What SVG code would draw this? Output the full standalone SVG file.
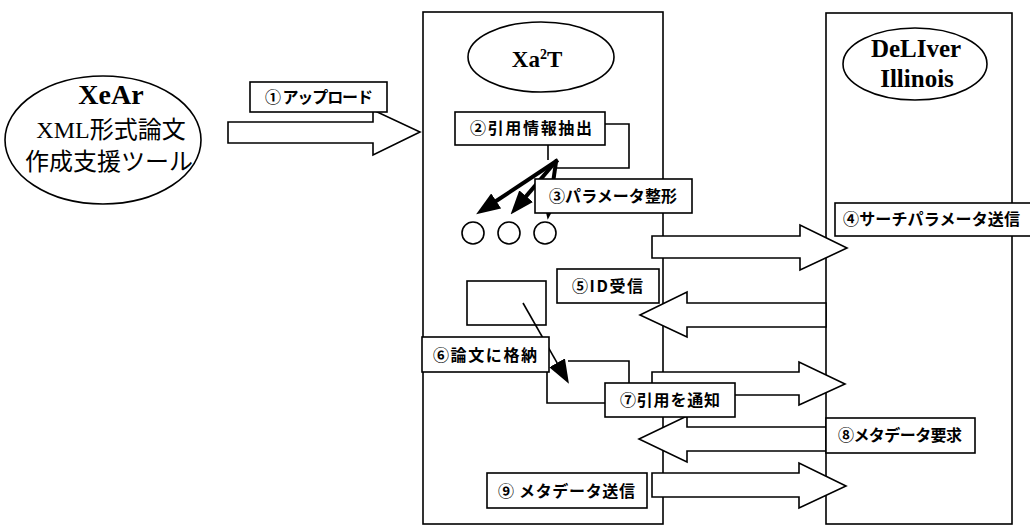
<svg xmlns="http://www.w3.org/2000/svg" width="1030" height="529" viewBox="0 0 1030 529">
<style>
.ln{fill:none;stroke:#000;stroke-width:1.6}
.box{fill:#fff;stroke:#000;stroke-width:1.6}
.arr{fill:#fff;stroke:#000;stroke-width:1.6;stroke-linejoin:miter}
.lbl{font-family:"Noto Sans CJK JP","Noto Sans",sans-serif;font-weight:bold;font-size:16px;fill:#000}
.ser{font-family:"Liberation Serif","Noto Sans CJK JP",serif;font-weight:bold;fill:#000}
.jp{font-family:"Liberation Serif","Noto Sans CJK JP",serif;fill:#000;font-size:24px}
.thick{fill:none;stroke:#000;stroke-width:4}
</style>
<defs>
<marker id="head" viewBox="0 0 24 18" refX="11" refY="9" markerWidth="24" markerHeight="18" orient="auto" markerUnits="userSpaceOnUse">
<path d="M0,0 L24,9 L0,18 z" fill="#000"/>
</marker>
</defs>

<g id="xear">
<ellipse class="box" cx="103" cy="140" rx="98" ry="64"/>
<text class="ser" x="111" y="104" font-size="28" text-anchor="middle">XeAr</text>
<text class="jp" x="111" y="138" text-anchor="middle">XML形式論文</text>
<text class="jp" x="109" y="170" text-anchor="middle">作成支援ツール</text>
</g>

<g id="xa2t">
<rect class="box" x="423" y="12" width="240" height="512"/>
<ellipse class="box" cx="541" cy="57" rx="73" ry="35"/>
<text class="ser" x="537" y="67" font-size="23" text-anchor="middle">Xa<tspan font-size="14" dy="-8">2</tspan><tspan dy="8">T</tspan></text>
</g>

<g id="deliver">
<rect class="box" x="826" y="13" width="186" height="511"/>
<ellipse class="box" cx="915" cy="64" rx="72" ry="36"/>
<text class="ser" x="916" y="57" font-size="25" text-anchor="middle">DeLIver</text>
<text class="ser" x="917" y="87" font-size="25" text-anchor="middle">Illinois</text>
</g>

<g id="items">
<rect class="box" x="467" y="281" width="79" height="44"/>
<circle class="box" cx="473" cy="233" r="11"/>
<circle class="box" cx="509" cy="233" r="11"/>
<circle class="box" cx="545" cy="233" r="11"/>
</g>

<g id="connectors">
<polygon class="arr" points="228,122 373,122 373,110 420,132 373,155 373,143 228,143"/>
<polygon class="arr" points="652,236 800,236 800,225 847,248 800,270 800,258 652,258"/>
<polygon class="arr" points="826,303 687,303 687,292 640,315 687,337 687,327 826,327"/>
<polygon class="arr" points="652,372 799,372 799,362 845,384 799,405 799,395 652,395"/>
<polygon class="arr" points="826,427 687,427 687,416 639,439 687,462 687,451 826,451"/>
<polygon class="arr" points="652,473 799,473 799,463 846,486 799,508 799,497 652,497"/>
<polyline class="ln" points="605,124 629,124 629,168 556,168"/>
<line class="ln" x1="548" y1="145" x2="548" y2="160"/>
<line class="thick" x1="558" y1="160" x2="487" y2="207" marker-end="url(#head)"/>
<line class="thick" x1="557" y1="160" x2="519" y2="204.6" marker-end="url(#head)"/>
<line class="thick" x1="556" y1="162" x2="549.5" y2="207" marker-end="url(#head)"/>
<polyline class="ln" points="547,372 547,403 606,403"/>
<polyline class="ln" points="568,361 629,361 629,383"/>
<line class="ln" x1="523" y1="303" x2="562.5" y2="372.4" stroke-width="3.2" marker-end="url(#head)"/>
</g>

<g id="label1"><rect class="box" x="250" y="82" width="137" height="30"/><text class="lbl" x="265" y="103" textLength="108">① アップロード</text></g>
<g id="label2"><rect class="box" x="455" y="112" width="150" height="33"/><text class="lbl" x="470" y="134" textLength="122">②引用情報抽出</text></g>
<g id="label3"><rect class="box" x="535" y="179" width="157" height="34"/><text class="lbl" x="549" y="202" textLength="128">③パラメータ整形</text></g>
<g id="label4"><rect class="box" x="835" y="203" width="205" height="33"/><text class="lbl" x="843" y="225" textLength="177">④サーチパラメータ送信</text></g>
<g id="label5"><rect class="box" x="557" y="269" width="102" height="34"/><text class="lbl" x="572" y="292" textLength="71">⑤ID受信</text></g>
<g id="label6"><rect class="box" x="422" y="337" width="127" height="35"/><text class="lbl" x="433" y="361" textLength="104">⑥論文に格納</text></g>
<g id="label7"><rect class="box" x="605" y="383" width="130" height="34"/><text class="lbl" x="620" y="406" textLength="100">⑦引用を通知</text></g>
<g id="label8"><rect class="box" x="826" y="418" width="149" height="35"/><text class="lbl" x="838" y="441" textLength="124">⑧メタデータ要求</text></g>
<g id="label9"><rect class="box" x="487" y="473" width="160" height="35"/><text class="lbl" x="498" y="497" textLength="137">⑨ メタデータ送信</text></g>
</svg>
